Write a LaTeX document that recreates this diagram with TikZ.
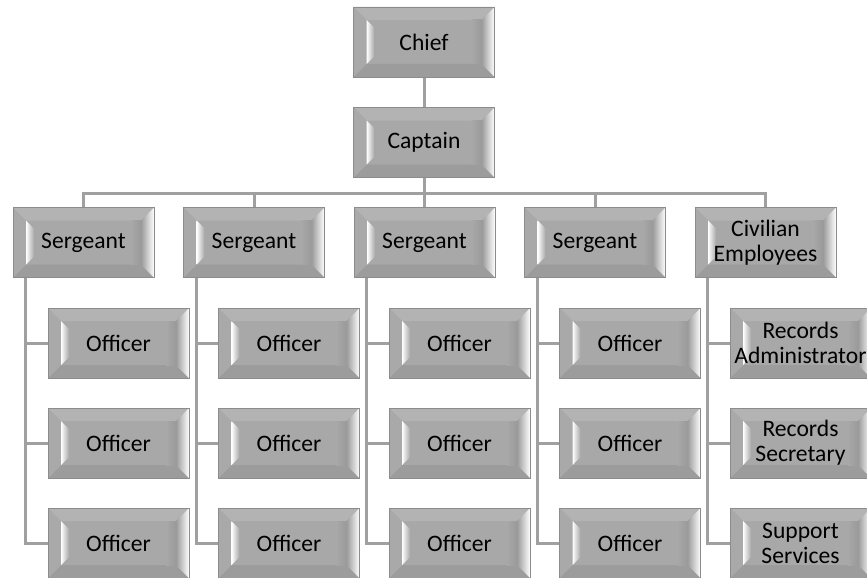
\documentclass[tikz,border=0pt]{standalone}
\usepackage{fontspec}
\setmainfont{Carlito}
\usetikzlibrary{calc,backgrounds}
\definecolor{facec}{HTML}{A8A8A8}
\definecolor{topc}{HTML}{B3B3B3}
\definecolor{botc}{HTML}{9C9C9C}
\definecolor{leftc}{HTML}{A9A9A9}
\definecolor{rbev}{HTML}{9A9A9A}
\definecolor{edgec}{HTML}{8C8C8C}
\definecolor{linec}{HTML}{A0A0A0}
\newcommand\boxfont{\fontsize{23.6pt}{25pt}\selectfont}
\newcommand\bevelpic{%
 \fill[topc] let \p1=(path picture bounding box.south west), \p2=(path picture bounding box.north east) in
   (\x1,\y2) -- (\x2,\y2) -- (\x2-13pt,\y2-13pt) -- (\x1+13pt,\y2-13pt) -- cycle;
 \fill[botc] let \p1=(path picture bounding box.south west), \p2=(path picture bounding box.north east) in
   (\x1,\y1) -- (\x2,\y1) -- (\x2-13pt,\y1+13pt) -- (\x1+13pt,\y1+13pt) -- cycle;
 \fill[leftc] let \p1=(path picture bounding box.south west), \p2=(path picture bounding box.north east) in
   (\x1,\y1) -- (\x1,\y2) -- (\x1+13pt,\y2-13pt) -- (\x1+13pt,\y1+13pt) -- cycle;
 \shade[left color=rbev, right color=white] let \p1=(path picture bounding box.south west), \p2=(path picture bounding box.north east) in
   (\x2,\y1) -- (\x2,\y2) -- (\x2-13pt,\y2-13pt) -- (\x2-13pt,\y1+13pt) -- cycle;
 \shade[left color=white, right color=facec] let \p1=(path picture bounding box.south west), \p2=(path picture bounding box.north east) in
   (\x1+13pt,\y1+13pt) -- (\x1+13pt,\y2-13pt) -- (\x1+21pt,\y2-21pt) -- (\x1+21pt,\y1+21pt) -- cycle;
 \shade[left color=facec, right color=rbev] let \p1=(path picture bounding box.south west), \p2=(path picture bounding box.north east) in
   (\x2-13pt,\y1+13pt) -- (\x2-13pt,\y2-13pt) -- (\x2-23pt,\y2-13pt) -- (\x2-23pt,\y1+13pt) -- cycle;
}
\tikzset{
  bevbox/.style={minimum width=141pt, minimum height=70pt, inner sep=0pt,
    fill=facec, draw=edgec, line width=0.6pt, align=center, font=\boxfont,
    text=black, path picture={\bevelpic}},
  conn/.style={draw=linec, line width=3pt}
}
\begin{document}
\begin{tikzpicture}[x=1pt,y=-1pt]
\useasboundingbox (0,0) rectangle (867,578);
\coordinate (bus) at (0,193);
\node[bevbox] (chief) at (424,42) {Chief};
\node[bevbox] (cap) at (424,142.5) {Captain};
\foreach \i/\t in {0/Sergeant,1/Sergeant,2/Sergeant,3/Sergeant,4/{Civilian\\Employees}}{
  \node[bevbox] (sg\i) at ({83.5+170.5*\i},242.5) {\t};
}
\foreach \i in {0,1,2,3}{
  \foreach \r/\y in {1/343,2/443,3/543}{
    \node[bevbox] (of\i\r) at ({118.5+170.5*\i},\y) {Officer};
  }
}
\node[bevbox] (of41) at (800.5,343) {Records\\Administrator};
\node[bevbox] (of42) at (800.5,443) {Records\\Secretary};
\node[bevbox] (of43) at (800.5,543) {Support\\Services};
\begin{scope}[on background layer]
  \draw[conn] (chief.south) -- (cap.north);
  \foreach \i in {0,...,4}{
    \draw[conn] (cap.south) -- (cap.south |- bus) -| (sg\i.north);
    \foreach \r in {1,2,3}{
      \draw[conn] ([xshift=13pt]sg\i.south west) |- (of\i\r.west);
    }
  }
\end{scope}
\end{tikzpicture}
\end{document}
